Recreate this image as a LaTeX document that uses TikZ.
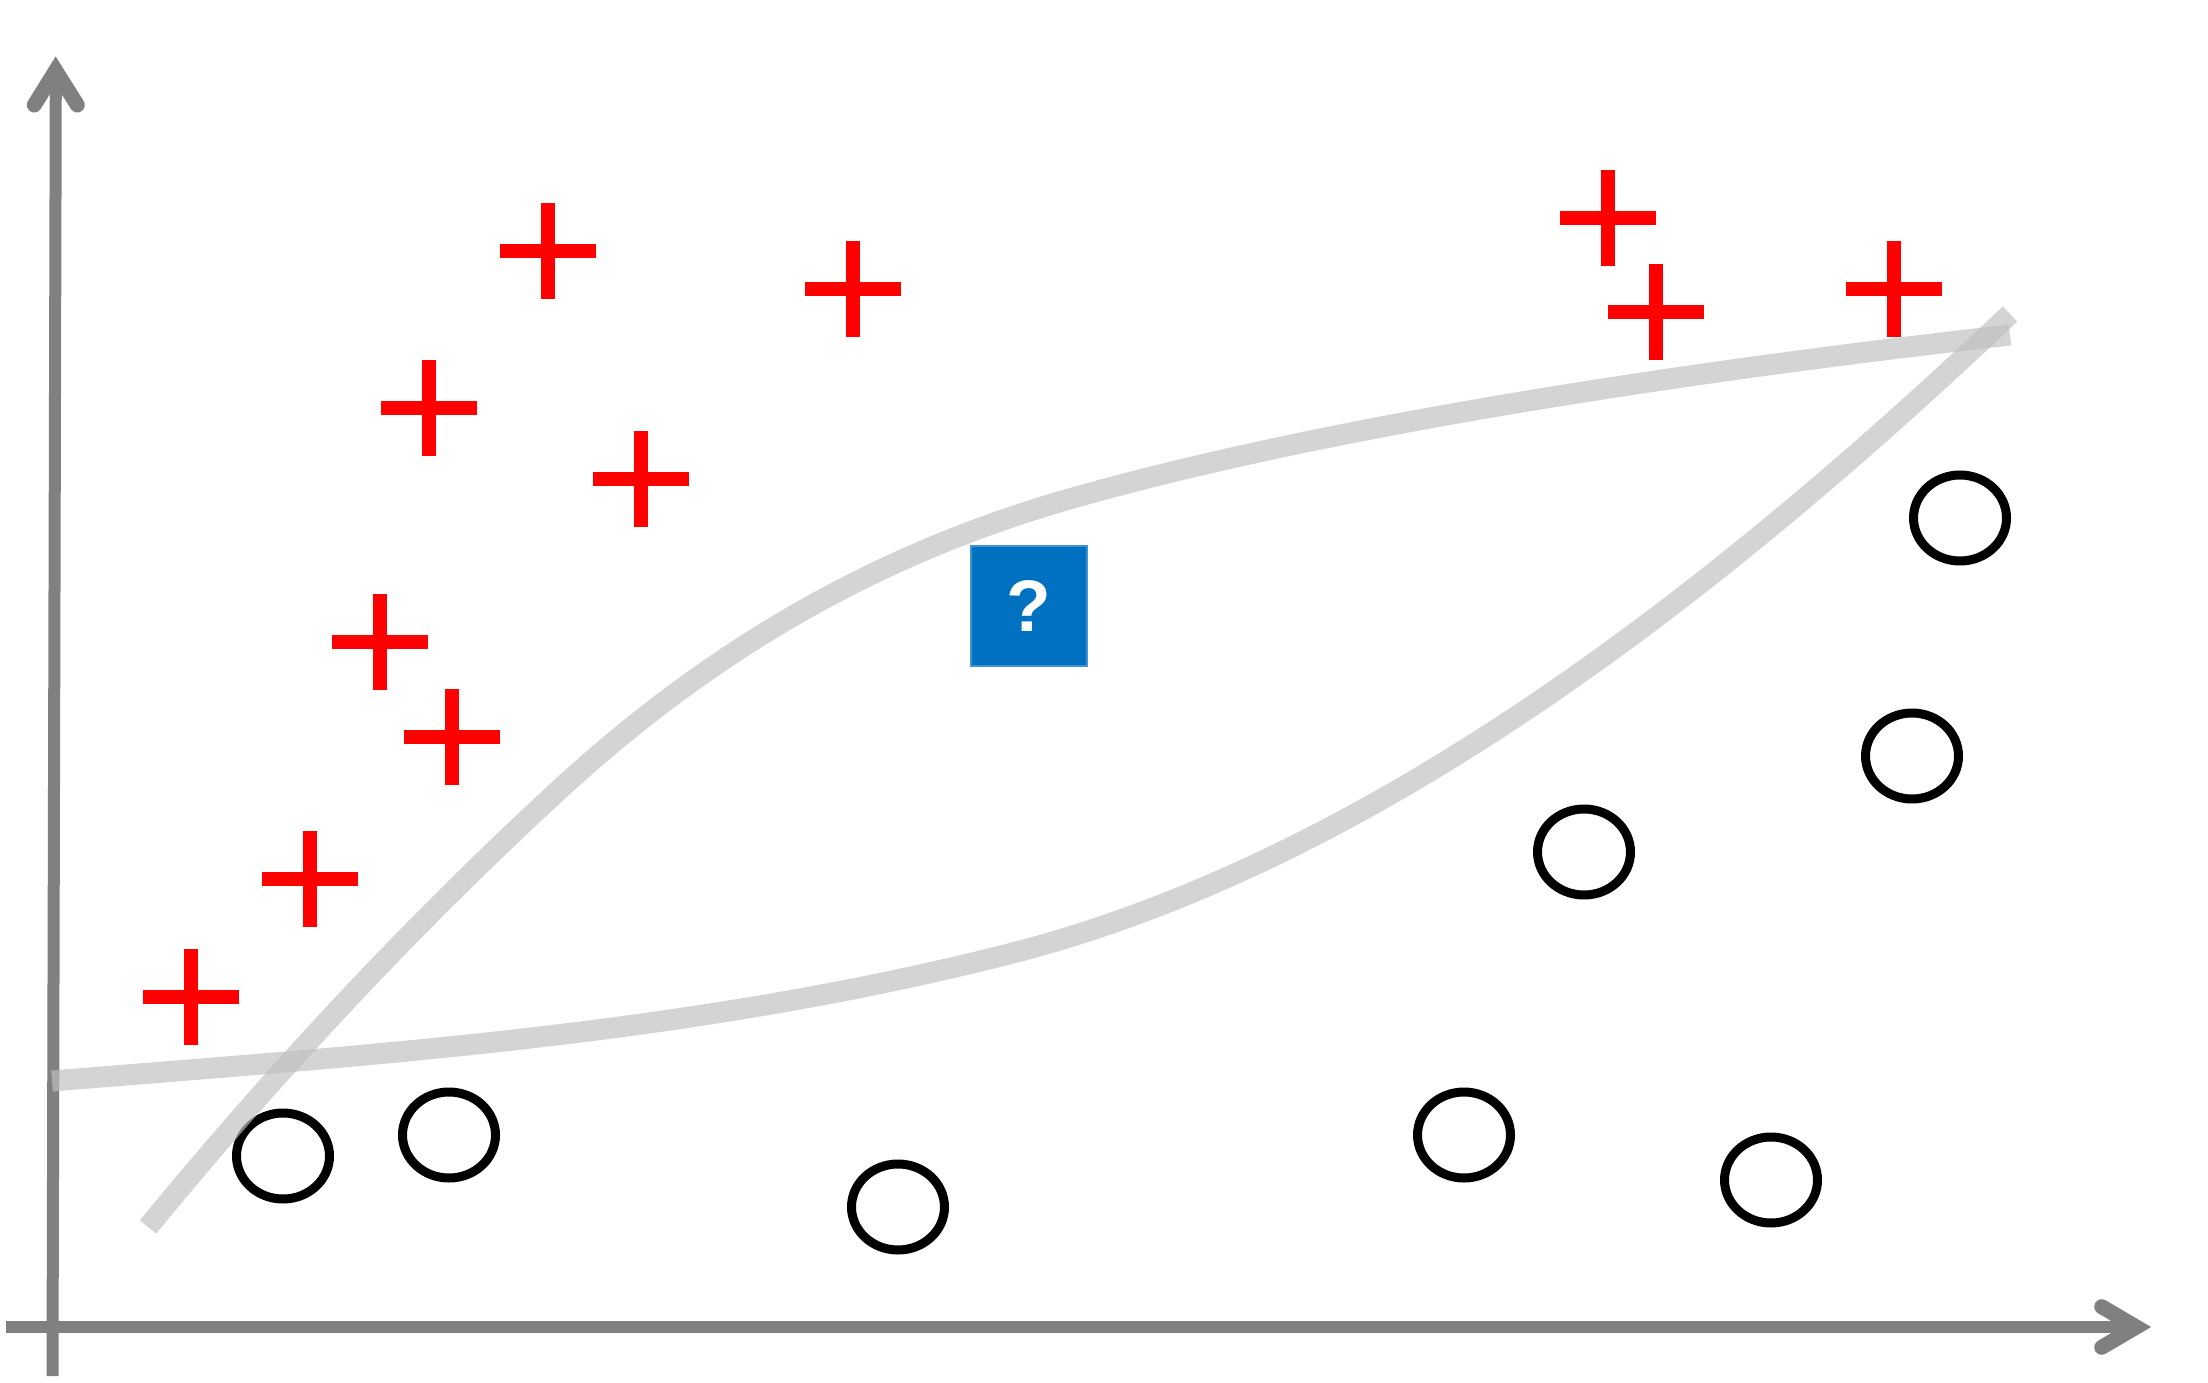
\documentclass[tikz,border=0pt]{standalone}
\usepackage{fontspec}
\newfontfamily\qfont{Liberation Sans}
\definecolor{axisgray}{RGB}{128,128,128}
\definecolor{curvegray}{RGB}{191,191,191}
\definecolor{qblue}{RGB}{0,112,192}
\tikzset{
  axisline/.style={draw=axisgray, line width=12pt, line cap=butt},
  arrowhd/.style={draw=axisgray, line width=15pt, line cap=round, line join=miter},
  curveline/.style={draw=curvegray, draw opacity=0.68, line width=21pt, line cap=butt},
  posmark/.style={draw=red, line width=14pt, line cap=butt},
  negmark/.style={draw=black, line width=9pt},
  qbox/.style={fill=qblue, draw=qblue!75!white, line width=1.2pt, minimum width=116pt, minimum height=120pt, inner sep=0pt, text=white, font=\qfont\bfseries\fontsize{73}{80}\selectfont},
  plusmark/.pic={\draw[posmark] (-48,0) -- (48,0) (0,-48) -- (0,48);},
}
\begin{document}
\begin{tikzpicture}[x=1pt,y=-1pt]
\useasboundingbox (0,0) rectangle (2208,1383);
% axes
\coordinate (yb) at (52.5,1376);
\coordinate (yt) at (55.8,80);
\coordinate (xl) at (6,1327);
\coordinate (xr) at (2130,1327);
\draw[axisline] (yb) -- (yt);
\draw[axisline] (xl) -- (xr);
\coordinate (ya1) at (34.3,105);
\coordinate (yv) at (55.7,70.6);
\coordinate (ya2) at (77.3,105);
\draw[arrowhd] (ya1) -- (yv) -- (ya2);
\coordinate (xa1) at (2101.7,1306.7);
\coordinate (xv) at (2136.3,1327);
\coordinate (xa2) at (2101.7,1347.3);
\draw[arrowhd] (xa1) -- (xv) -- (xa2);
% positive samples
\pic (p1) at (548,251) {plusmark};
\pic (p2) at (853,289) {plusmark};
\pic (p3) at (429,408) {plusmark};
\pic (p4) at (641,479) {plusmark};
\pic (p5) at (380,642) {plusmark};
\pic (p6) at (452,737) {plusmark};
\pic (p7) at (310,879) {plusmark};
\pic (p8) at (191,997) {plusmark};
\pic (p9) at (1608,218) {plusmark};
\pic (p10) at (1656,312) {plusmark};
\pic (p11) at (1894,289) {plusmark};
% negative samples
\draw[negmark] (1960,518) ellipse [x radius=46.5pt, y radius=43pt];
\draw[negmark] (1912,756) ellipse [x radius=46.5pt, y radius=43pt];
\draw[negmark] (1584,852) ellipse [x radius=46.5pt, y radius=43pt];
\draw[negmark] (283,1156) ellipse [x radius=46.5pt, y radius=43pt];
\draw[negmark] (449,1135) ellipse [x radius=46.5pt, y radius=43pt];
\draw[negmark] (898,1207) ellipse [x radius=46.5pt, y radius=43pt];
\draw[negmark] (1464,1135) ellipse [x radius=46.5pt, y radius=43pt];
\draw[negmark] (1771,1180) ellipse [x radius=46.5pt, y radius=43pt];
% query
\node[qbox] (q) at (1029,606) {\raisebox{-4pt}{?}};
% boundaries
\coordinate (a0) at (148,1227);
\coordinate (a1) at (560,789);
\coordinate (a2) at (1080,496);
\coordinate (a3) at (2010,335);
\draw[curveline] (a0) .. controls (285,1060) and (423,915) .. (a1)
  .. controls (733,630) and (907,544) .. (a2)
  .. controls (1340,423) and (1700,370) .. (a3);
\coordinate (b0) at (52,1081);
\coordinate (b1) at (1005,955);
\coordinate (b2) at (2010,314);
\draw[curveline] (b0) .. controls (370,1055) and (687,1035) .. (b1)
  .. controls (1340,871) and (1675,632) .. (b2);
\end{tikzpicture}
\end{document}
